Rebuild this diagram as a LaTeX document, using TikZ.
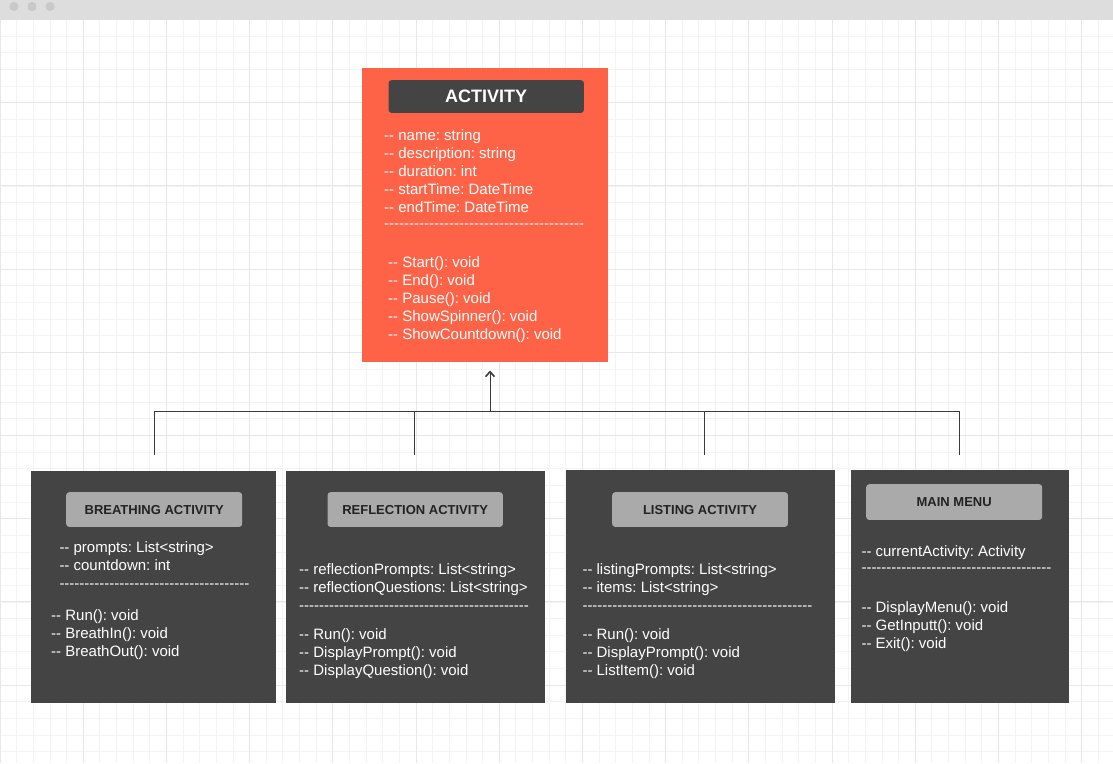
\documentclass[tikz,border=0pt]{standalone}
\usepackage{fontspec}
\usetikzlibrary{arrows.meta}
\newfontfamily\uf{Liberation Sans}
\frenchspacing
\definecolor{tomatoc}{HTML}{FF6347}
\definecolor{darkc}{HTML}{444444}
\definecolor{titlegray}{HTML}{AAAAAA}
\definecolor{titletext}{HTML}{222222}
\definecolor{minorc}{HTML}{F3F3F3}
\definecolor{majorc}{HTML}{E7E7E7}
\definecolor{barc}{HTML}{DDDDDD}
\definecolor{dotc}{HTML}{C9C9C9}
\definecolor{linec}{HTML}{3A3A3A}
\newcommand\hyph[1]{\foreach\k in {1,...,#1}{-}}
\newcommand\txtlines[4]{\foreach \t [count=\i] in {#4}{\node[body] (#1\i) at (#2,{#3+18*(\i-1)}) {\t};}}
\begin{document}
\begin{tikzpicture}[x=1pt,y=-1pt,
  body/.style={font=\uf\frenchspacing\fontsize{15}{18}\selectfont, text=white, inner sep=0pt, anchor=base west},
  panel/.style={inner sep=0pt, anchor=north west, draw=none},
  ttl/.style={inner sep=0pt, anchor=north west, fill=titlegray, rounded corners=3pt,
    font=\uf\bfseries\fontsize{13}{13}\selectfont, text=titletext},
  conn/.style={draw=linec, line width=1pt},
  minorgrid/.style={draw=minorc, line width=0.8pt},
  majorgrid/.style={draw=majorc, line width=0.9pt}]
\useasboundingbox (0,0) rectangle (1113,763);
\fill[white] (0,0) rectangle (1113,763);
% grid
\foreach \i in {0,...,66} \draw[minorgrid] ({\i*16.64},19.5) -- ({\i*16.64},763);
\foreach \j in {0,...,44} \draw[minorgrid] (0,{19.5+\j*16.64}) -- (1113,{19.5+\j*16.64});
\foreach \i in {0,...,13} \draw[majorgrid] ({\i*83.2},19.5) -- ({\i*83.2},763);
\foreach \j in {0,...,8} \draw[majorgrid] (0,{19.5+\j*83.2}) -- (1113,{19.5+\j*83.2});
% top bar
\fill[barc] (0,0) rectangle (1113,19.5);
\foreach \cx in {14,32,50} \fill[dotc] (\cx,6.5) circle (4.6pt);

% ACTIVITY
\node[panel, fill=tomatoc, minimum width=245.3pt, minimum height=294.4pt] (act) at (362,67.3) {};
\node[panel, fill=darkc, rounded corners=3pt, minimum width=195.4pt, minimum height=32.7pt,
  font=\uf\bfseries\fontsize{18}{18}\selectfont, text=white] (actT) at (388.3,80) {ACTIVITY};
\txtlines{aa}{384}{140.3}{-- name: string,-- description: string,-- duration: int,-- startTime: DateTime,-- endTime: DateTime}
\node[body] (ad) at (384,228.5) {\hyph{40}};
\txtlines{am}{388}{267.5}{-- Start(): void,-- End(): void,-- Pause(): void,-- ShowSpinner(): void,-- ShowCountdown(): void}

% BREATHING
\node[panel, fill=darkc, minimum width=245pt, minimum height=232pt] (br) at (31,471) {};
\node[ttl, minimum width=176pt, minimum height=34.7pt] (brT) at (66,492) {BREATHING ACTIVITY};
\txtlines{ba}{59.3}{552}{-- prompts: List<string>,-- countdown: int}
\node[body] (bd) at (59.3,588) {\hyph{38}};
\txtlines{bm}{51}{620}{-- Run(): void,-- BreathIn(): void,-- BreathOut(): void}

% REFLECTION
\node[panel, fill=darkc, minimum width=259pt, minimum height=232pt] (re) at (286,471) {};
\node[ttl, minimum width=175.4pt, minimum height=34.7pt] (reT) at (327.3,492) {REFLECTION ACTIVITY};
\txtlines{ra}{299}{574}{-- reflectionPrompts: List<string>,-- reflectionQuestions: List<string>}
\node[body] (rd) at (299,610) {\hyph{46}};
\txtlines{rm}{299}{639}{-- Run(): void,-- DisplayPrompt(): void,-- DisplayQuestion(): void}

% LISTING
\node[panel, fill=darkc, minimum width=269pt, minimum height=233pt] (li) at (566,470) {};
\node[ttl, minimum width=175.7pt, minimum height=34.7pt] (liT) at (612,492) {LISTING ACTIVITY};
\txtlines{la}{582.3}{574}{-- listingPrompts: List<string>,-- items: List<string>}
\node[body] (ld) at (582.3,610) {\hyph{46}};
\txtlines{lm}{582.3}{639}{-- Run(): void,-- DisplayPrompt(): void,-- ListItem(): void}

% MAIN MENU
\node[panel, fill=darkc, minimum width=218pt, minimum height=232.5pt] (mm) at (851,470) {};
\node[ttl, minimum width=176pt, minimum height=35.7pt] (mmT) at (866,484) {MAIN MENU};
\txtlines{ma}{861.3}{556.3}{-- currentActivity: Activity}
\node[body] (md) at (861.3,572.7) {\hyph{38}};
\txtlines{mm}{861.3}{612}{-- DisplayMenu(): void,-- GetInputt(): void,-- Exit(): void}

% connectors
\coordinate (tip) at (490,370.5);
\coordinate (hub) at (490,411);
\coordinate (h1) at (154.5,411);
\coordinate (h2) at (414.3,411);
\coordinate (h3) at (704.6,411);
\coordinate (h4) at (959.5,411);
\coordinate (e1) at (154.5,455);
\coordinate (e2) at (414.3,455);
\coordinate (e3) at (704.6,455);
\coordinate (e4) at (959.5,455);
\draw[conn, -{Straight Barb[length=5pt,width=9pt,line width=1.6pt]}] (hub) -- (tip);
\draw[conn] (h1) -- (h4);
\draw[conn] (h1) -- (e1);
\draw[conn] (h2) -- (e2);
\draw[conn] (h3) -- (e3);
\draw[conn] (h4) -- (e4);
\end{tikzpicture}
\end{document}
